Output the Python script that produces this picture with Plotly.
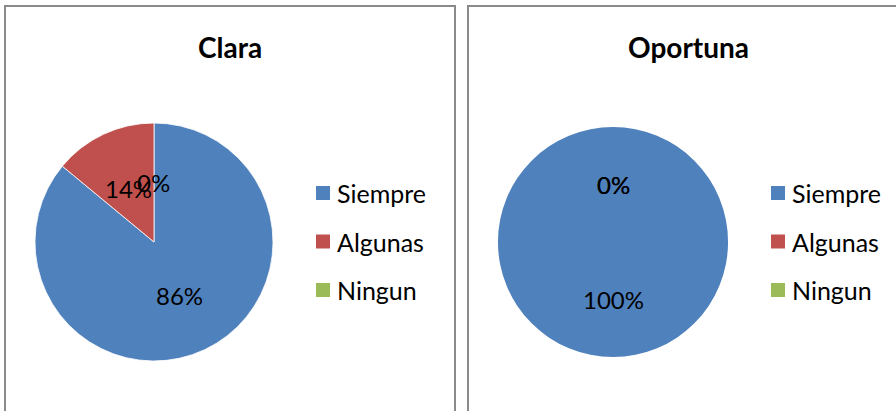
import math
import plotly.graph_objects as go

# ---- data ----
categories = ["Siempre", "Algunas", "Ningun"]
clara_values = [86, 14, 0]
oportuna_values = [100, 0, 0]
chart_titles = ["Clara", "Oportuna"]
slice_colors = ["#4F81BD", "#C0504D", "#9BBB59"]

# ---- layout geometry (pixels, top-left origin) ----
W, H = 896, 411
FONT = "Lato"
BORDER = "#8A8A8A"

panels = [
    dict(values=clara_values, title=chart_titles[0], box=(5, 455),
         cx=154, cy=242, r=119, title_x=230, legend_x=316),
    dict(values=oportuna_values, title=chart_titles[1], box=(468, 910),
         cx=613, cy=242, r=115, title_x=688, legend_x=771),
]
legend_rows = [193, 241.5, 290]


def px(x):
    return x / W


def py(y):
    return 1 - y / H


fig = go.Figure()
shapes = []
annotations = []

for p in panels:
    vals = p["values"]
    total = sum(vals)
    cx, cy, r = p["cx"], p["cy"], p["r"]
    line_w = [0.8 if 0 < v < total else 0 for v in vals]
    fig.add_trace(go.Pie(
        labels=categories,
        values=vals,
        sort=False,
        direction="clockwise",
        rotation=0,
        marker=dict(colors=slice_colors, line=dict(color="#FFFFFF", width=line_w)),
        textinfo="none",
        hoverinfo="label+percent",
        showlegend=False,
        domain=dict(x=[px(cx - r), px(cx + r)], y=[py(cy + r), py(cy - r)]),
    ))

    # panel border
    x0, x1 = p["box"]
    shapes.append(dict(type="rect", xref="paper", yref="paper",
                       x0=px(x0), x1=px(x1), y0=py(430), y1=py(6),
                       line=dict(color=BORDER, width=2), fillcolor="rgba(0,0,0,0)"))

    # title
    annotations.append(dict(text="<b>%s</b>" % p["title"], xref="paper", yref="paper",
                            x=px(p["title_x"]), y=py(47), xanchor="center", yanchor="middle",
                            showarrow=False, font=dict(family=FONT, size=28, color="#000000")))

    # data labels (percent of total), placed at half radius on the slice bisector
    cum = 0.0
    for v in vals:
        mid = (cum + v / 2.0) / total
        cum += v
        th = 2 * math.pi * mid
        lx = cx + 0.5 * r * math.sin(th)
        ly = cy - 0.5 * r * math.cos(th)
        annotations.append(dict(text="%d%%" % round(100.0 * v / total), xref="paper", yref="paper",
                                x=px(lx), y=py(ly), xanchor="center", yanchor="middle",
                                showarrow=False, font=dict(family=FONT, size=24, color="#000000")))

    # legend
    lx0 = p["legend_x"]
    for cat, col, ry in zip(categories, slice_colors, legend_rows):
        shapes.append(dict(type="rect", xref="paper", yref="paper",
                           x0=px(lx0), x1=px(lx0 + 14), y0=py(ry + 7), y1=py(ry - 7),
                           line=dict(width=0), fillcolor=col))
        annotations.append(dict(text=cat, xref="paper", yref="paper",
                                x=px(lx0 + 19), y=py(ry), xanchor="left", yanchor="middle",
                                showarrow=False, font=dict(family=FONT, size=25, color="#000000")))

fig.update_layout(
    width=W, height=H,
    margin=dict(l=0, r=0, t=0, b=0),
    paper_bgcolor="#FFFFFF",
    plot_bgcolor="#FFFFFF",
    shapes=shapes,
    annotations=annotations,
    showlegend=False,
)

fig.write_html("out.html", config={"displayModeBar": False},
               post_script="document.body.style.margin='0';")
